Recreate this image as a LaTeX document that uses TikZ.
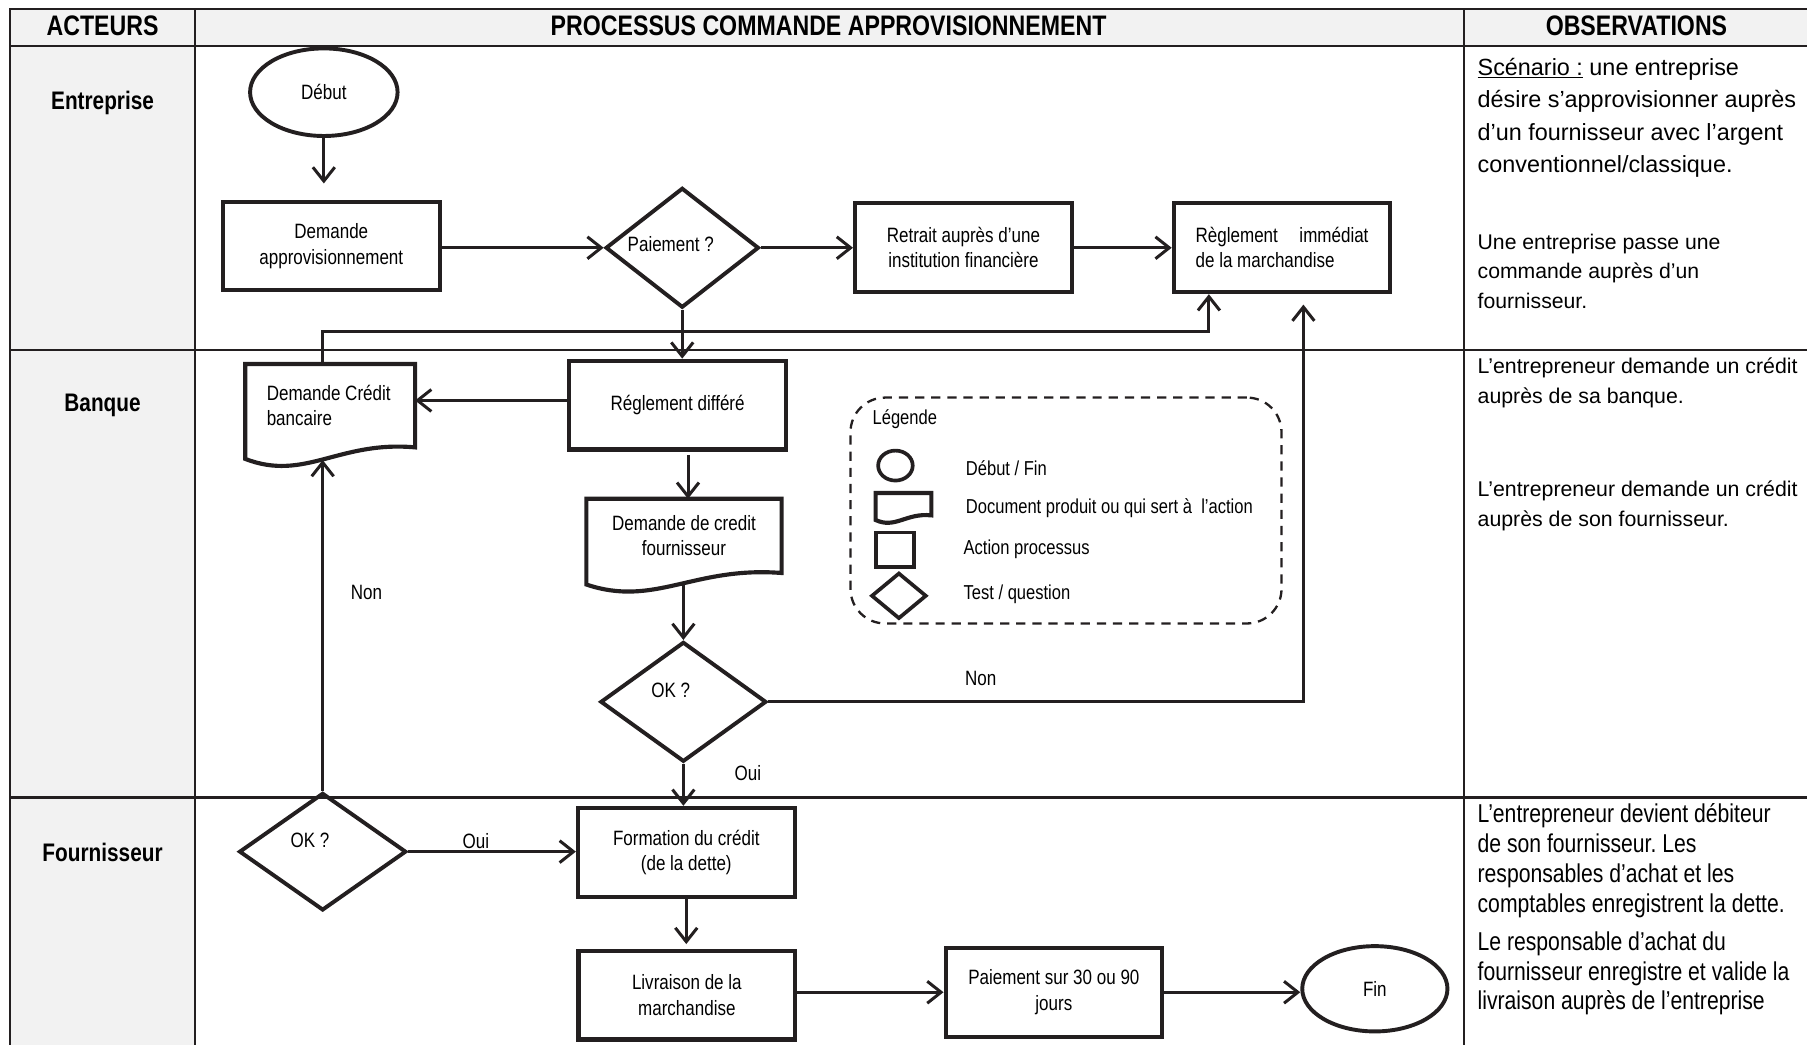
\documentclass[tikz,border=0pt]{standalone}
\usepackage{fontspec}
\setmainfont{Liberation Sans}
\newfontfamily\narrowfont[FakeStretch=0.82]{Liberation Sans}
\usetikzlibrary{shapes.geometric,arrows.meta,calc}
\frenchspacing

\definecolor{ink}{HTML}{231F20}
\definecolor{cellgray}{HTML}{F2F2F2}

\newcommand\dgbox{\narrowfont\fontsize{18}{22}\selectfont}
\newcommand\dghead{\narrowfont\bfseries\fontsize{24.5}{28}\selectfont}
\newcommand\dgactor{\narrowfont\bfseries\fontsize{22}{26}\selectfont}
\newcommand\dglegend{\narrowfont\fontsize{17.5}{21}\selectfont}

% outline of a "document" symbol drawn around a (borderless) node
\newcommand\docoutline[2]{%
  \draw[docline] (#1.south east) -- (#1.north east) -- (#1.north west)
    -- ($(#1.south west)+(0,#2)$)
    .. controls ($(#1.south west)!0.35!(#1.south east)+(0,3*#2)$)
           and ($(#1.south west)!0.55!(#1.south east)+(0,-0.6*#2)$)
    .. (#1.south east) -- cycle;}

\tikzset{
  gridline/.style={draw=ink, line width=1.8pt},
  actionbox/.style={rectangle, draw=ink, line width=3.6pt, minimum width=188pt,
    minimum height=77pt, align=center, font=\dgbox, inner sep=0pt},
  docnode/.style={rectangle, draw=none, align=center, font=\dgbox, inner sep=0pt},
  docline/.style={draw=ink, line width=3.6pt, line join=miter},
  terminal/.style={ellipse, draw=ink, line width=3.4pt, font=\dgbox, inner sep=0pt},
  decision/.style={diamond, draw=ink, line width=3.4pt, inner sep=0pt},
  flow/.style={draw=ink, line width=2.6pt,
    -{Straight Barb[length=12pt,width=19pt,line width=2.6pt]}},
  lbl/.style={font=\dgbox, inner sep=0pt},
  legendframe/.style={draw=ink, line width=2pt, dash pattern=on 8pt off 6pt,
    rounded corners=30pt, minimum width=374pt, minimum height=196pt},
  legtext/.style={font=\dglegend, anchor=west, inner sep=0pt},
  obs/.style={anchor=base west, align=flush left, inner sep=0pt},
}

\begin{document}
\begin{tikzpicture}[x=1pt,y=-1pt]
\useasboundingbox (0,0) rectangle (1568,907);

% ---------- table ----------
\fill[cellgray] (9,8) rectangle (1568,40);
\fill[cellgray] (9,40) rectangle (169,907);
\draw[gridline] (1568,8) -- (9,8) -- (9,907);
\draw[gridline] (9,40) -- (1568,40);
\draw[gridline] (9,304) -- (1568,304);
\draw[gridline] (9,692) -- (1568,692);
\draw[gridline] (169,8) -- (169,907);
\draw[gridline] (1270,8) -- (1270,907);

\node[font=\dghead] (hact) at (89,22) {ACTEURS};
\node[font=\dghead] (hproc) at (719,22) {PROCESSUS COMMANDE APPROVISIONNEMENT};
\node[font=\dghead] (hobs) at (1420,22) {OBSERVATIONS};

\node[font=\dgactor] (aent) at (89,89) {Entreprise};
\node[font=\dgactor] (aban) at (89,352) {Banque};
\node[font=\dgactor] (afou) at (89,740) {Fournisseur};

% ---------- process ----------
\node[terminal, minimum width=128pt, minimum height=76pt] (debut) at (281,80) {Début};
\node[actionbox] (dappro) at (287.5,213.5) {Demande\\approvisionnement};
\node[decision, minimum width=133pt, minimum height=104pt,
  label={[lbl, shift={(-10,-3)}]center:Paiement ?}] (paie) at (592,215) {};
\node[actionbox] (retrait) at (836,215) {Retrait auprès d’une\\institution financière};
\node[actionbox, text width=150pt, align=flush left] (regl) at (1112.5,215)
  {Règlement\hskip 0pt plus 1fill immédiat\\de la marchandise};

\node[actionbox] (rdiff) at (588,351.5) {Réglement différé};
\node[docnode, minimum width=147pt, minimum height=72pt, text width=110pt, align=flush left]
  (dcb) at (286.5,352) {Demande Crédit\\bancaire};
\docoutline{dcb}{10}
\node[docnode, minimum width=169pt, minimum height=64pt] (dcf) at (593.5,465)
  {Demande de credit\\fournisseur};
\docoutline{dcf}{10}
\node[decision, minimum width=144pt, minimum height=104pt,
  label={[lbl, shift={(-11,-10)}]center:OK ?}] (ok1) at (593,609) {};

\node[decision, minimum width=145pt, minimum height=102pt,
  label={[lbl, shift={(-11,-10)}]center:OK ?}] (ok2) at (280,739) {};
\node[actionbox] (form) at (595.5,739.5) {Formation du crédit\\(de la dette)};
\node[actionbox] (livr) at (596,863.5) {Livraison de la\\marchandise};
\node[actionbox] (p30) at (914.5,861) {Paiement sur 30 ou 90\\jours};
\node[terminal, minimum width=126pt, minimum height=74pt] (fin) at (1193,858) {Fin};

% ---------- connectors ----------
\draw[flow, shorten >=14pt] (debut.south) -- (debut.south |- dappro.north);
\draw[flow] (dappro.east |- paie.west) -- (paie.west);
\draw[flow] (paie.east) -- (retrait.west);
\draw[flow] (retrait.east) -- (regl.west);
\draw[flow] (paie.south) -- (paie.south |- rdiff.north);
\draw[flow] ($(rdiff.west)+(0,-4)$) -- ($(rdiff.west -| dcb.east)+(0,-4)$);
\coordinate (r1) at ($(rdiff.south)+(9,3)$);
\draw[flow] (r1) -- (r1 |- dcf.north);
\draw[flow] ($(ok1.north |- dcf.south)+(0,9)$) -- (ok1.north);
\draw[flow] (ok1.south) -- (ok1.south |- form.north);

\coordinate (j1) at (1049,288);
\draw[flow] (dcb.north -| ok2.north) |- (j1) -- (j1 |- regl.south);

\coordinate (j2) at (1131,609);
\draw[flow] (ok1.east) -- (j2) -- ($(j2 |- regl.south)+(0,9)$);
\node[lbl] (lnon1) at (851,589) {Non};

\draw[flow] (ok2.north) -- ($(ok2.north |- dcb.south)+(0,11)$);
\node[lbl] (lnon2) at (318,514) {Non};
\node[lbl] (loui1) at (649,671) {Oui};

\draw[flow] (ok2.east) -- (ok2.east -| form.west);
\node[lbl] (loui2) at (413,730) {Oui};
\draw[flow, shorten >=4pt] (form.south) -- (form.south |- livr.north);
\draw[flow] (livr.east |- p30.west) -- (p30.west);
\draw[flow] (p30.east) -- (p30.east -| fin.west);

% ---------- legend ----------
\node[legendframe] (leg) at (925,443) {};
\node[font=\dglegend, anchor=west, inner sep=0pt] (legt) at (757,364) {Légende};
\node[ellipse, draw=ink, line width=3.2pt, minimum width=30pt, minimum height=26pt,
  inner sep=0pt] (li1) at (777,404) {};
\node[docnode, minimum width=48pt, minimum height=19pt] (li2) at (784,437.5) {};
\docoutline{li2}{4}
\node[rectangle, draw=ink, line width=3.2pt, minimum width=33pt, minimum height=30pt,
  inner sep=0pt] (li3) at (776.5,477) {};
\node[decision, line width=3.2pt, minimum width=48pt, minimum height=40pt] (li4) at (780,517) {};
\node[legtext] (lt1) at (838,406) {Début / Fin};
\node[legtext] (lt2) at (838,441) {Document produit ou qui sert à~ l’action};
\node[legtext] (lt3) at (836,477) {Action processus};
\node[legtext] (lt4) at (836,516) {Test / question};

% ---------- observations (anchored on the last line's baseline) ----------
\node[obs, font=\fontsize{20.3}{28.3}\selectfont] (o1) at (1282,150)
  {\underline{Scénario :} une entreprise\\désire s’approvisionner auprès\\d’un fournisseur avec l’argent\\conventionnel/classique.};
\node[obs, font=\fontsize{18.4}{25.5}\selectfont] (o2) at (1282,267.5)
  {Une entreprise passe une\\commande auprès d’un\\fournisseur.};
\node[obs, font=\fontsize{18.5}{26}\selectfont] (o3) at (1282,350.5)
  {L’entrepreneur demande un crédit\\auprès de sa banque.};
\node[obs, font=\fontsize{18.5}{26}\selectfont] (o4) at (1282,456.5)
  {L’entrepreneur demande un crédit\\auprès de son fournisseur.};
\node[obs, font=\narrowfont\fontsize{22.4}{26}\selectfont] (o5) at (1282,792)
  {L’entrepreneur devient débiteur\\de son fournisseur. Les\\responsables d’achat et les\\comptables enregistrent la dette.};
\node[obs, font=\narrowfont\fontsize{22.4}{25.5}\selectfont] (o6) at (1282,876)
  {Le responsable d’achat du\\fournisseur enregistre et valide la\\livraison auprès de l’entreprise};
\end{tikzpicture}
\end{document}
